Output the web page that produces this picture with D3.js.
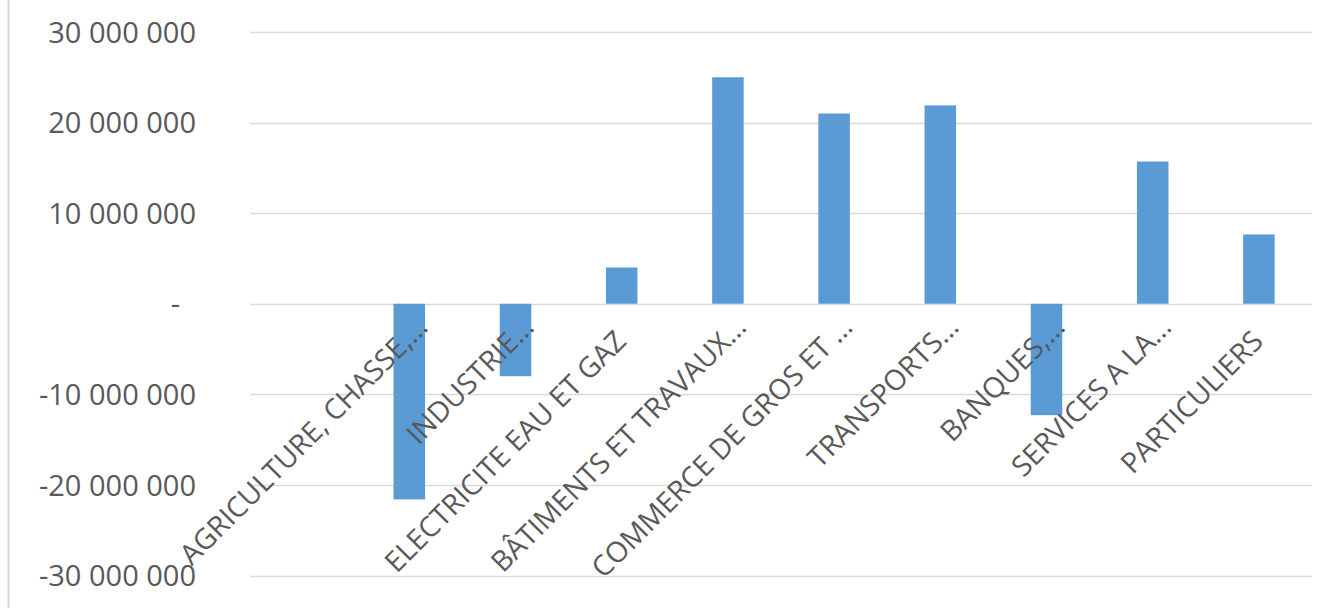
<!DOCTYPE html>
<html>
<head>
<meta charset="utf-8">
<script src="https://cdn.jsdelivr.net/npm/d3@7"></script>
<style>
  html, body { margin: 0; padding: 0; background: #ffffff; }
  svg { display: block; }
  text { font-family: "Open Sans", Lato, sans-serif; fill: #595959; }
</style>
</head>
<body>
<svg id="chart" width="1342" height="608"></svg>
<script>
// Sectors (first slot is an unlabeled empty category)
const categories = [
  "",
  "AGRICULTURE, CHASSE,…",
  "INDUSTRIE…",
  "ELECTRICITE EAU ET GAZ",
  "BÂTIMENTS ET TRAVAUX…",
  "COMMERCE DE GROS ET …",
  "TRANSPORTS…",
  "BANQUES,…",
  "SERVICES A LA…",
  "PARTICULIERS"
];
const values = [
  null,
  -21600000,
  -8000000,
  4000000,
  25000000,
  21000000,
  21900000,
  -12300000,
  15700000,
  7650000
];
const yTicks = [-30000000, -20000000, -10000000, 0, 10000000, 20000000, 30000000];

const svg = d3.select("#chart");
const W = 1342, H = 608;

// Chart-area border (left edge visible)
svg.append("line")
  .attr("x1", 8.5).attr("x2", 8.5).attr("y1", 0).attr("y2", H)
  .attr("stroke", "#d9d9d9").attr("stroke-width", 2);

const x = d3.scaleBand()
  .domain(d3.range(categories.length))
  .range([250, 1312])
  .paddingInner(0.703)
  .paddingOuter(0.3515);

const y = d3.scaleLinear()
  .domain([-30000000, 30000000])
  .range([575.5, 32]);

const fr = d3.formatLocale({ decimal: ",", thousands: " ", grouping: [3], currency: ["", " €"], minus: "-" });
const fmt = fr.format(",.0f");

// Gridlines
svg.append("g")
  .selectAll("line")
  .data(yTicks)
  .join("line")
  .attr("x1", 250).attr("x2", 1312)
  .attr("y1", d => Math.round(y(d)) + 0.5)
  .attr("y2", d => Math.round(y(d)) + 0.5)
  .attr("stroke", "#d9d9d9")
  .attr("stroke-width", 1.5);

// Y axis labels
const yAxis = d3.axisLeft(y)
  .tickValues(yTicks)
  .tickSize(0)
  .tickPadding(0)
  .tickFormat(d => d === 0 ? "-" : fmt(d));

const gy = svg.append("g")
  .attr("transform", "translate(196,0)")
  .call(yAxis);
gy.select(".domain").remove();
gy.selectAll("text")
  .style("font-size", "29px")
  .attr("fill", "#595959")
  .attr("dy", "0.35em")
  .attr("dx", d => d === 0 ? -16 : 0);

// Bars
svg.append("g")
  .selectAll("rect")
  .data(values.map((v, i) => ({ v, i })).filter(d => d.v !== null))
  .join("rect")
  .attr("x", d => x(d.i))
  .attr("width", x.bandwidth())
  .attr("y", d => y(Math.max(0, d.v)))
  .attr("height", d => Math.abs(y(d.v) - y(0)))
  .attr("fill", "#5b9bd5");

// Category labels, rotated -45°
svg.append("g")
  .selectAll("text")
  .data(categories.map((c, i) => ({ c, i })).filter(d => d.c !== ""))
  .join("text")
  .attr("transform", d => `translate(${x(d.i) + x.bandwidth() / 2 + 6},343) rotate(-45)`)
  .attr("text-anchor", "end")
  .attr("dx", d => d.c.endsWith("…") ? 20 : 0)
  .style("font-size", "28.5px")
  .text(d => d.c);
</script>
</body>
</html>
